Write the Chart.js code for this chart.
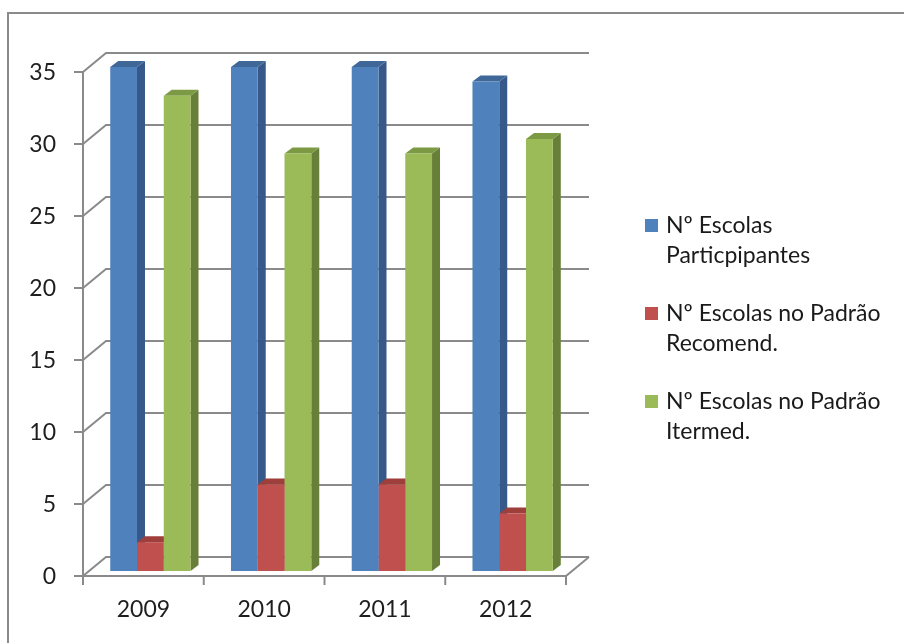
<!DOCTYPE html>
<html>
<head>
<meta charset="utf-8">
<script src="https://cdn.jsdelivr.net/npm/chart.js@4/dist/chart.umd.min.js"></script>
<style>
  html, body { margin: 0; padding: 0; background: #fff; }
  #wrap { position: relative; width: 904px; height: 643px; overflow: hidden; }
  #frame { position: absolute; left: 7px; top: 12px; width: 940px; height: 700px; border: 2px solid #8a8a8a; box-sizing: border-box; }
  #chartBox { position: absolute; left: 0; top: 0; width: 904px; height: 643px; }
</style>
</head>
<body>
<div id="wrap">
  <div id="frame"></div>
  <div id="chartBox"><canvas id="grafico"></canvas></div>
</div>
<script>
// Dados do gráfico
const anos = ["2009", "2010", "2011", "2012"];
const participantes = [35, 35, 35, 34];
const padraoRecomend = [2, 6, 6, 4];
const padraoItermed = [33, 29, 29, 30];
const rotulos = [
  ["Nº Escolas", "Particpipantes"],
  ["Nº Escolas no Padrão", "Recomend."],
  ["Nº Escolas no Padrão", "Itermed."]
];

const FONTE = "Lato, 'Open Sans', sans-serif";
const GRADE = "#8a8a8a";
// deslocamentos do "3D" (relativos ao plano das barras)
const FRENTE = { dx: -7, dy: 5 };
const FUNDO = { dx: 16, dy: -14 };
const PROF = { dx: 8, dy: -6 };

const efeito3d = {
  id: "efeito3d",
  beforeDatasetsDraw(chart) {
    const ctx = chart.ctx;
    const { left, right } = chart.chartArea;
    const y = chart.scales.y;
    const x = chart.scales.x;
    ctx.save();
    ctx.strokeStyle = GRADE;
    ctx.lineWidth = 2;
    ctx.fillStyle = "#1e1e1e";
    ctx.font = "23px " + FONTE;
    ctx.textAlign = "right";
    ctx.textBaseline = "middle";

    // linhas de grade no fundo + diagonais na parede esquerda
    y.ticks.forEach(t => {
      const py = y.getPixelForValue(t.value);
      ctx.beginPath();
      ctx.moveTo(left + FRENTE.dx - 9, py + FRENTE.dy);
      ctx.lineTo(left + FRENTE.dx, py + FRENTE.dy);
      ctx.lineTo(left + FUNDO.dx, py + FUNDO.dy);
      ctx.lineTo(right + FUNDO.dx, py + FUNDO.dy);
      ctx.stroke();
      ctx.fillText(String(t.value), left + FRENTE.dx - 27, py + FRENTE.dy + 1);
    });

    const y0 = y.getPixelForValue(0) + FRENTE.dy;
    const yTop = y.getPixelForValue(y.max) + FRENTE.dy;
    // eixo vertical da frente
    ctx.beginPath();
    ctx.moveTo(left + FRENTE.dx, yTop);
    ctx.lineTo(left + FRENTE.dx, y0 + 9);
    ctx.stroke();
    // chão: borda frontal e lateral direita
    ctx.beginPath();
    ctx.moveTo(left + FRENTE.dx, y0);
    ctx.lineTo(right + FRENTE.dx, y0);
    ctx.lineTo(right + FUNDO.dx, y.getPixelForValue(0) + FUNDO.dy);
    ctx.stroke();

    // marcas e rótulos das categorias
    const passo = x.getPixelForValue(1) - x.getPixelForValue(0);
    ctx.textAlign = "center";
    for (let i = 0; i <= anos.length; i++) {
      const bx = x.getPixelForValue(0) - passo / 2 + i * passo + FRENTE.dx;
      ctx.beginPath();
      ctx.moveTo(bx, y0);
      ctx.lineTo(bx, y0 + 9);
      ctx.stroke();
    }
    anos.forEach((a, i) => {
      ctx.fillText(a, x.getPixelForValue(i) + FRENTE.dx, y0 + 34);
    });

    // faces laterais e de topo das barras
    for (let i = 0; i < anos.length; i++) {
      chart.data.datasets.forEach((ds, d) => {
        const el = chart.getDatasetMeta(d).data[i];
        const p = el.getProps(["x", "y", "base", "width"], true);
        const l = p.x - p.width / 2, r = p.x + p.width / 2;
        ctx.fillStyle = ds.corLado;
        ctx.beginPath();
        ctx.moveTo(r, p.y);
        ctx.lineTo(r + PROF.dx, p.y + PROF.dy);
        ctx.lineTo(r + PROF.dx, p.base + PROF.dy);
        ctx.lineTo(r, p.base);
        ctx.closePath();
        ctx.fill();
        ctx.fillStyle = ds.corTopo;
        ctx.beginPath();
        ctx.moveTo(l, p.y);
        ctx.lineTo(l + PROF.dx, p.y + PROF.dy);
        ctx.lineTo(r + PROF.dx, p.y + PROF.dy);
        ctx.lineTo(r, p.y);
        ctx.closePath();
        ctx.fill();
      });
    }
    ctx.restore();
  },
  afterDraw(chart) {
    // legenda com texto em duas linhas
    const ctx = chart.ctx;
    ctx.save();
    ctx.font = "23px " + FONTE;
    ctx.textAlign = "left";
    ctx.textBaseline = "middle";
    chart.data.datasets.forEach((ds, d) => {
      const yy = 226 + d * 88;
      ctx.fillStyle = ds.backgroundColor;
      ctx.fillRect(645, yy - 7, 13, 13);
      ctx.fillStyle = "#1a1a1a";
      rotulos[d].forEach((linha, k) => ctx.fillText(linha, 666, yy + k * 30));
    });
    ctx.restore();
  }
};

new Chart(document.getElementById("grafico"), {
  type: "bar",
  data: {
    labels: anos,
    datasets: [
      { label: rotulos[0].join(" "), data: participantes, backgroundColor: "#4f81bd", corLado: "#37598a", corTopo: "#3f6899" },
      { label: rotulos[1].join(" "), data: padraoRecomend, backgroundColor: "#c0504d", corLado: "#8c3734", corTopo: "#9e3f3c" },
      { label: rotulos[2].join(" "), data: padraoItermed, backgroundColor: "#9bbb59", corLado: "#687f3a", corTopo: "#7c9a44" }
    ]
  },
  options: {
    responsive: true,
    maintainAspectRatio: false,
    animation: false,
    layout: { padding: { left: 90, right: 331, top: 67, bottom: 72 } },
    datasets: { bar: { categoryPercentage: 0.665, barPercentage: 1.0 } },
    scales: {
      x: { display: false },
      y: { display: false, min: 0, max: 35, ticks: { stepSize: 5 } }
    },
    plugins: { legend: { display: false }, tooltip: { enabled: false } }
  },
  plugins: [efeito3d]
});
</script>
</body>
</html>
